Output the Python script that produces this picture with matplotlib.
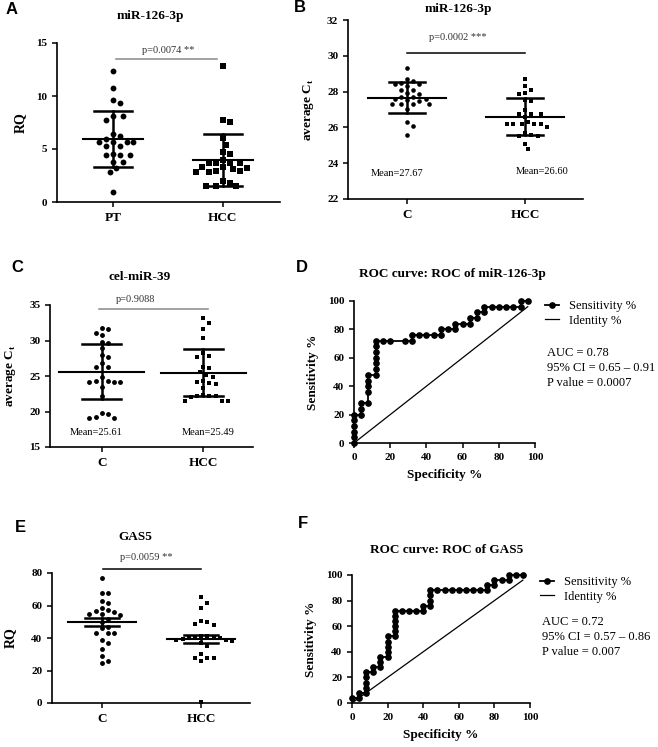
import numpy as np
import matplotlib
matplotlib.use("Agg")
import matplotlib.pyplot as plt

plt.rcParams["font.family"] = ["Liberation Serif", "DejaVu Serif"]
plt.rcParams["mathtext.fontset"] = "custom"
plt.rcParams["mathtext.rm"] = "Liberation Serif"
plt.rcParams["mathtext.bf"] = "Liberation Serif:bold"

W, H = 658, 747

# ---- data ----
groups_a = ["PT", "HCC"]
a_pt = [12.4, 10.8, 9.6, 9.3, 8.1, 8.1, 7.7, 6.4, 6.2, 5.9, 5.7, 5.7, 5.7, 5.7, 5.25,
        5.25, 4.5, 4.45, 4.45, 4.45, 3.8, 3.8, 3.2, 2.85, 0.95]
a_hcc = [12.8, 7.7, 7.55, 6.0, 5.4, 4.7, 4.5, 4.0, 3.7, 3.7, 3.65, 3.7, 3.3, 3.2, 3.3,
         3.1, 2.9, 2.8, 2.8, 2.9, 2.0, 1.8, 1.5, 1.5, 1.5]
a_mean = [5.94, 3.97]
a_err = [2.62, 2.45]

groups = ["C", "HCC"]
b_c = [29.3, 28.7, 28.6, 28.5, 28.4, 28.4, 28.3, 28.1, 28.1, 27.9, 27.85, 27.7, 27.7,
       27.6, 27.6, 27.55, 27.5, 27.3, 27.3, 27.3, 27.3, 27.0, 26.3, 26.1, 25.6]
b_hcc = [28.7, 28.3, 28.1, 27.9, 27.85, 27.55, 27.5, 26.95, 26.75, 26.75, 26.75, 26.6,
         26.3, 26.2, 26.2, 26.2, 26.2, 26.05, 25.7, 25.6, 25.5, 25.5, 25.1, 24.8, 26.2]
b_mean = [27.67, 26.60]
b_err = [0.85, 1.02]

c_c = [31.8, 31.6, 31.1, 30.8, 29.8, 29.6, 28.9, 28.0, 27.7, 26.9, 26.3, 26.3, 24.8,
       24.3, 24.3, 24.2, 24.2, 24.2, 23.5, 22.2, 19.7, 19.8, 19.1, 19.1, 19.2]
c_hcc = [33.1, 32.4, 31.6, 30.3, 28.2, 27.8, 27.7, 26.3, 26.1, 25.5, 25.2, 24.8, 24.3,
         24.1, 24.0, 23.9, 23.3, 22.3, 22.2, 22.2, 22.1, 22.2, 21.5, 21.5, 21.5]
c_mean = [25.61, 25.49]
c_err = [3.9, 3.3]

e_c = [77, 68, 68, 63, 61.3, 58.7, 57.2, 56.6, 56, 55, 54.7, 54, 52, 50, 47, 46, 43, 43,
       43, 38.7, 37.2, 33.5, 29, 26, 24.5]
e_hcc = [65, 61.7, 58.6, 50.5, 49.7, 48.5, 48, 41.5, 41, 40.5, 40, 40, 39.5, 39, 38.5,
         38, 36.7, 35, 30, 28, 28, 27.9, 26, 39.8, 0.5]
e_mean = [49.9, 39.2]
e_err = [2.6, 2.4]

d_spec = [0, 0, 0, 0, 0, 0, 4, 4, 4, 8, 8, 8, 8, 8, 12, 12, 12, 12, 12, 12, 12, 16, 20,
          28, 32, 32, 36, 40, 44, 48, 48, 52, 56, 56, 60, 64, 64, 68, 68, 72, 72, 76, 80,
          84, 88, 92, 92, 96]
d_sens = [0, 4, 8, 12, 16, 20, 20, 24, 28, 28, 36, 40, 44, 48, 48, 52, 56, 60, 64, 68, 72,
          72, 72, 72, 72, 76, 76, 76, 76, 76, 80, 80, 80, 84, 84, 84, 88, 88, 92, 92, 96,
          96, 96, 96, 96, 96, 100, 100]
f_spec = [0, 4, 4, 8, 8, 8, 8, 8, 12, 12, 16, 16, 16, 20, 20, 20, 20, 20, 24, 24, 24, 24,
          24, 24, 28, 32, 36, 40, 40, 44, 44, 44, 44, 48, 52, 56, 60, 64, 68, 72, 76, 76,
          80, 80, 84, 88, 88, 92, 96]
f_sens = [4, 4, 8, 8, 12, 16, 20, 24, 24, 28, 28, 32, 36, 36, 40, 44, 48, 52, 52, 56, 60,
          64, 68, 72, 72, 72, 72, 72, 76, 76, 80, 84, 88, 88, 88, 88, 88, 88, 88, 88, 88,
          92, 92, 96, 96, 96, 100, 100, 100]

fig = plt.figure(figsize=(W / 100, H / 100), dpi=100)


def px_axes(x0, y0, x1, y1):
    return fig.add_axes([x0 / W, 1 - y1 / H, (x1 - x0) / W, (y1 - y0) / H])


def ftext(x, y, s, **kw):
    fig.text(x / W, 1 - y / H, s, ha="center", va="center", **kw)


def style(ax):
    for s in ["top", "right"]:
        ax.spines[s].set_visible(False)
    for s in ["left", "bottom"]:
        ax.spines[s].set_linewidth(1.2)
    ax.tick_params(direction="out", length=3.5, width=1.1)


def swarm(ax, xc, vals, d):
    vals = np.asarray(vals, float)
    pix = ax.transData.transform(np.column_stack([np.full(len(vals), xc), vals]))
    out = np.zeros(len(vals))
    placed = []
    step = d / 2
    cands = [0.0]
    for k in range(1, 40):
        cands += [k * step, -k * step]
    for i in np.argsort(-vals):
        px, py = pix[i]
        for o in cands:
            if all((px + o - qx) ** 2 + (py - qy) ** 2 >= d * d for qx, qy in placed):
                break
        placed.append((px + o, py))
        out[i] = px + o
    return ax.transData.inverted().transform(np.column_stack([out, pix[:, 1]]))[:, 0]


def scatter_panel(ax, data, labels, mean, err, xlim, ylim, yticks, ms, d, mw, ew):
    style(ax)
    ax.set_xlim(*xlim)
    ax.set_ylim(*ylim)
    for i, (vals, mk) in enumerate(zip(data, ["o", "s"])):
        xs = swarm(ax, i, vals, d)
        ax.plot(xs, vals, mk, color="black", ms=ms if mk == "o" else ms * 0.9, mew=0,
                clip_on=False, zorder=3)
        ax.plot([i - mw, i + mw], [mean[i]] * 2, color="black", lw=1.5, zorder=4)
        for yv in (mean[i] - err[i], mean[i] + err[i]):
            ax.plot([i - ew, i + ew], [yv, yv], color="black", lw=1.8, zorder=4)
        ax.plot([i, i], [mean[i] - err[i], mean[i] + err[i]], color="black", lw=1.8, zorder=4)
    ax.set_xticks([0, 1])
    ax.set_xticklabels(labels, fontsize=9.5, fontweight="bold")
    ax.set_yticks(yticks)
    for t in ax.get_yticklabels():
        t.set_fontsize(8)
        t.set_fontweight("bold")


def sig(ax, x0, x1, y, ty, tx, s, color):
    ax.plot([x0, x1], [y, y], color=color, lw=1.1, clip_on=False)
    ax.text(tx, ty, s, ha="center", va="center", fontsize=7.5, color="#333333")


# ---- A ----
axA = px_axes(57, 43, 280, 202)
scatter_panel(axA, [a_pt, a_hcc], groups_a, a_mean, a_err, (-0.51, 1.52), (0, 15),
              [0, 5, 10, 15], 4.2, 6.8, 0.27, 0.17)
axA.set_ylabel("RQ", fontsize=10, fontweight="bold", labelpad=7)
sig(axA, 0.03, 0.95, 13.5, 14.3, 0.5, "p=0.0074 **", "#888888")

# ---- B ----
axB = px_axes(348, 20, 583, 199)
scatter_panel(axB, [b_c, b_hcc], groups, b_mean, b_err, (-0.5, 1.49), (22, 32),
              [22, 24, 26, 28, 30, 32], 3.3, 6.2, 0.33, 0.15)
axB.set_ylabel(r"average C$_{\mathbf{t}}$", fontsize=9.5, fontweight="bold", labelpad=8)
sig(axB, 0.0, 1.0, 30.15, 31.0, 0.43, "p=0.0002 ***", "black")
axB.text(-0.085, 23.4, "Mean=27.67", ha="center", va="center", fontsize=7.5)
axB.text(1.14, 23.55, "Mean=26.60", ha="center", va="center", fontsize=7.5)

# ---- C ----
axC = px_axes(50, 305, 253, 447)
scatter_panel(axC, [c_c, c_hcc], groups, c_mean, c_err, (-0.51, 1.49), (15, 35),
              [15, 20, 25, 30, 35], 3.5, 6.2, 0.42, 0.19)
axC.set_ylabel(r"average C$_{\mathbf{t}}$", fontsize=9.5, fontweight="bold", labelpad=8)
sig(axC, -0.03, 1.05, 34.4, 35.8, 0.33, "p=0.9088", "#888888")
axC.text(-0.06, 17.0, "Mean=25.61", ha="center", va="center", fontsize=7.5)
axC.text(1.05, 17.1, "Mean=25.49", ha="center", va="center", fontsize=7.5)

# ---- E ----
axE = px_axes(52, 573, 250, 703)
scatter_panel(axE, [e_c, e_hcc], groups, e_mean, e_err, (-0.5, 1.49), (0, 80),
              [0, 20, 40, 60, 80], 3.5, 6.2, 0.34, 0.17)
axE.set_ylabel("RQ", fontsize=10, fontweight="bold", labelpad=10)
sig(axE, 0.01, 1.0, 82.5, 89.5, 0.45, "p=0.0059 **", "black")


# ---- ROC panels ----
def roc_panel(ax, spec, sens, auc_lines, leg_y, txt_y):
    style(ax)
    ax.set_xlim(0, 100)
    ax.set_ylim(0, 100)
    ax.plot(spec, sens, "-o", color="black", lw=1.3, ms=3.8, clip_on=False, zorder=3,
            label="Sensitivity %")
    ax.plot([0, max(spec)], [0, max(spec)], color="black", lw=0.9, label="Identity %")
    ax.set_xticks([0, 20, 40, 60, 80, 100])
    ax.set_yticks([0, 20, 40, 60, 80, 100])
    for t in ax.get_xticklabels() + ax.get_yticklabels():
        t.set_fontsize(8)
        t.set_fontweight("bold")
    ax.set_xlabel("Specificity %", fontsize=9.5, fontweight="bold", labelpad=5)
    ax.set_ylabel("Sensitivity %", fontsize=9.5, fontweight="bold", labelpad=6)
    ax.legend(loc="upper left", bbox_to_anchor=(1.03, leg_y), frameon=False, fontsize=9,
              handlelength=1.1, handletextpad=0.8, labelspacing=0.2, borderaxespad=0)
    for s, yy in zip(auc_lines, txt_y):
        ax.text(1.065, yy, s, transform=ax.transAxes, fontsize=9, va="center")


axD = px_axes(354, 301, 535, 443)
roc_panel(axD, d_spec, d_sens,
          ["AUC = 0.78", "95% CI = 0.65 \u2013 0.91", "P value = 0.0007"],
          1.04, [0.634, 0.528, 0.423])

axF = px_axes(352, 575, 530, 703)
roc_panel(axF, f_spec, f_sens,
          ["AUC = 0.72", "95% CI = 0.57 \u2013 0.86", "P value = 0.007"],
          1.03, [0.633, 0.516, 0.398])

# titles and panel letters
ftext(150, 16, "miR-126-3p", fontsize=9.5, fontweight="bold")
ftext(458, 9, "miR-126-3p", fontsize=9.5, fontweight="bold")
ftext(140, 277, "cel-miR-39", fontsize=9.5, fontweight="bold")
ftext(452, 274, "ROC curve: ROC of miR-126-3p", fontsize=9.5, fontweight="bold")
ftext(135, 537, "GAS5", fontsize=9.5, fontweight="bold")
ftext(447, 550, "ROC curve: ROC of GAS5", fontsize=9.5, fontweight="bold")

for s, x, y in [("A", 12, 10), ("B", 300, 8), ("C", 17, 268), ("D", 302, 267),
                ("E", 20, 527), ("F", 303, 523)]:
    ftext(x, y, s, fontsize=12, fontweight="bold", family="Liberation Sans")

fig.savefig("out.png", dpi=100)
